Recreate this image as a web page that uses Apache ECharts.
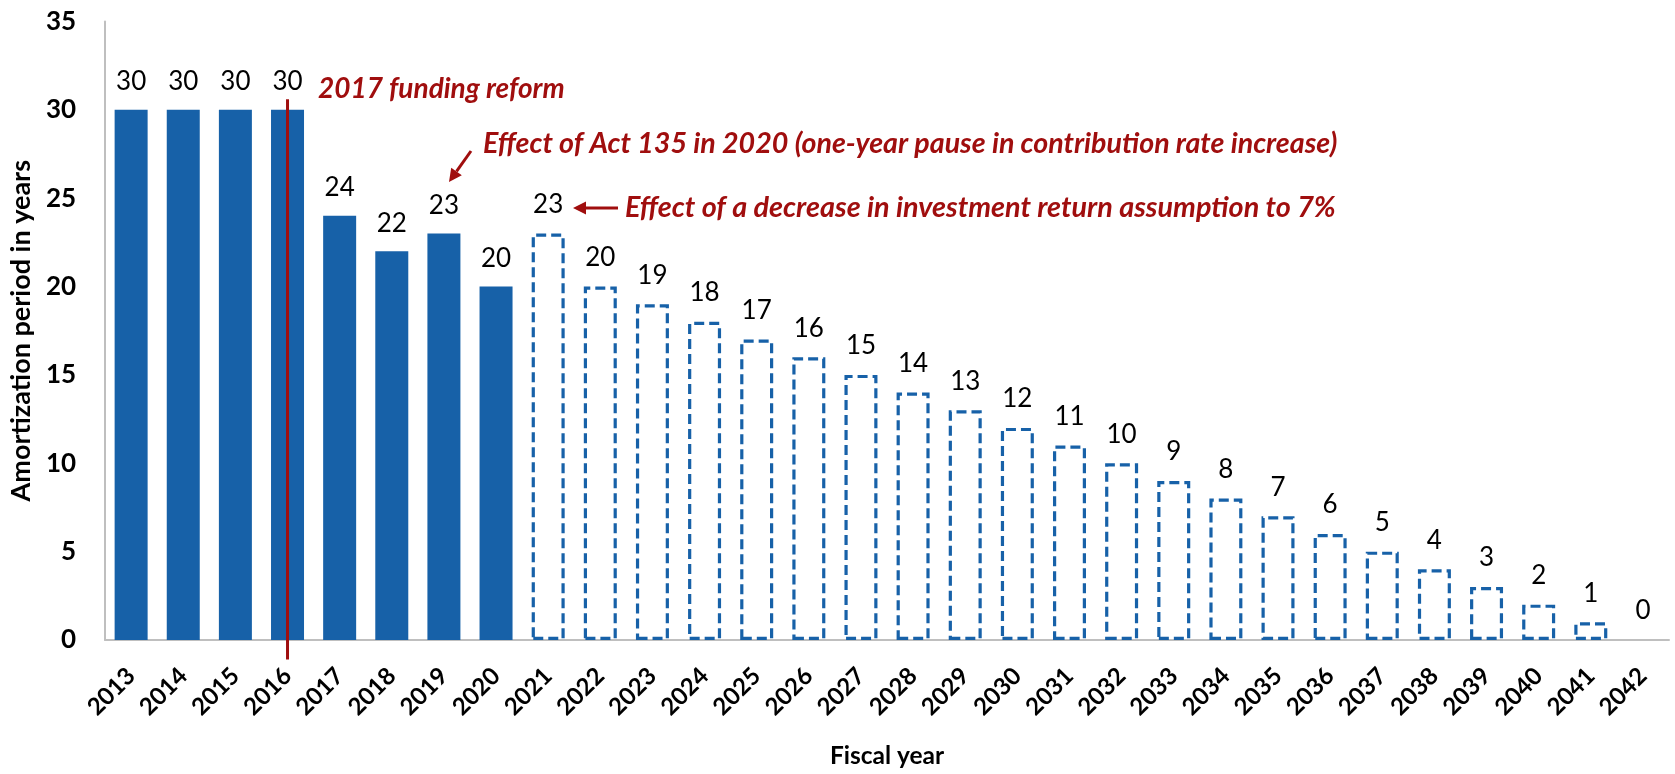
<!DOCTYPE html>
<html><head><meta charset="utf-8">
<script src="https://cdn.jsdelivr.net/npm/echarts@6/dist/echarts.min.js"></script>
<style>html,body{margin:0;padding:0;background:#fff}#c{width:1675px;height:774px}</style>
</head><body><div id="c"></div>
<script>
const years = ['2013','2014','2015','2016','2017','2018','2019','2020','2021','2022','2023','2024','2025','2026','2027','2028','2029','2030','2031','2032','2033','2034','2035','2036','2037','2038','2039','2040','2041','2042'];
const actualValues = [30,30,30,30,24,22,23,20];
const projectedValues = [23,20,19,18,17,16,15,14,13,12,11,10,9,8,7,6,5,4,3,2,1,0];
const reformYear = '2016';
const annotations = [
  '2017 funding reform',
  'Effect of Act 135 in 2020 (one-year pause in contribution rate increase)',
  'Effect of a decrease in investment return assumption to 7%'
];

const BLUE = '#1761A8';
const RED = '#A00E0E';
const FONT = 'Lato';

const actualData = years.map((y, i) => i < actualValues.length ? actualValues[i] : '-');
const projData = years.map((y, i) => {
  const j = i - actualValues.length;
  if (j < 0) return '-';
  const v = projectedValues[j];
  return v === 0 ? {value: v, itemStyle: {borderWidth: 0}} : v;
});

const chart = echarts.init(document.getElementById('c'), null, {renderer: 'canvas'});
const labelStyle = {show: true, position: 'top', distance: 15, color: '#000', fontFamily: FONT, fontSize: 26};
chart.setOption({
  animation: false,
  grid: {left: 105, right: 6, top: 21.4, bottom: 128.7, containLabel: false},
  xAxis: {
    type: 'category', data: years,
    name: 'Fiscal year', nameLocation: 'middle', nameGap: 104,
    nameTextStyle: {fontFamily: FONT, fontWeight: 'bold', fontSize: 24.5, color: '#000'},
    axisLine: {lineStyle: {color: '#BFBFBF', width: 2}},
    axisTick: {show: false},
    axisLabel: {rotate: 45, interval: 0, margin: 32, fontFamily: FONT, fontWeight: 'bold', fontSize: 24, color: '#000'}
  },
  yAxis: {
    type: 'value', min: 0, max: 35, interval: 5,
    name: 'Amortization period in years', nameLocation: 'middle', nameGap: 68,
    nameTextStyle: {fontFamily: FONT, fontWeight: 'bold', fontSize: 27, color: '#000'},
    axisLine: {show: true, lineStyle: {color: '#BFBFBF', width: 2}},
    axisTick: {show: false},
    splitLine: {show: false},
    axisLabel: {margin: 29, fontFamily: FONT, fontWeight: 'bold', fontSize: 26, color: '#000'}
  },
  series: [
    {type: 'bar', name: 'Actual', data: actualData, barWidth: 33, barGap: '-100%',
     itemStyle: {color: BLUE}, label: labelStyle},
    {type: 'bar', name: 'Projected', data: projData, barWidth: 33, barGap: '-100%',
     itemStyle: {color: '#fff', borderColor: BLUE, borderWidth: 3.2, borderType: [10, 5]},
     label: Object.assign({}, labelStyle, {distance: 16})}
  ]
});

function arrow(x1, y1, x2, y2) {
  const dx = x2 - x1, dy = y2 - y1, L = Math.hypot(dx, dy);
  const ux = dx / L, uy = dy / L, px = -uy, py = ux;
  const hl = 13, hw = 6.5;
  const bx = x2 - ux * hl, by = y2 - uy * hl;
  return [
    {type: 'line', shape: {x1: x1, y1: y1, x2: bx, y2: by}, style: {stroke: RED, lineWidth: 3}},
    {type: 'polygon', shape: {points: [[x2, y2], [bx + px * hw, by + py * hw], [bx - px * hw, by - py * hw]]}, style: {fill: RED}}
  ];
}

const lineX = chart.convertToPixel({xAxisIndex: 0}, reformYear);
const lineTop = chart.convertToPixel({yAxisIndex: 0}, 30.6);
const lineBot = chart.convertToPixel({yAxisIndex: 0}, -1.1);
const annoFont = {fontFamily: FONT, fontStyle: 'italic', fontWeight: 'bold', fill: RED};

chart.setOption({
  graphic: [
    {type: 'line', z: 100, shape: {x1: lineX, y1: lineTop, x2: lineX, y2: lineBot}, style: {stroke: RED, lineWidth: 3}},
    {type: 'text', x: 318, y: 89, style: Object.assign({text: annotations[0], verticalAlign: 'middle', fontSize: 28}, annoFont)},
    {type: 'text', x: 483, y: 144, style: Object.assign({text: annotations[1], verticalAlign: 'middle', fontSize: 28.6}, annoFont)},
    {type: 'text', x: 625, y: 208, style: Object.assign({text: annotations[2], verticalAlign: 'middle', fontSize: 28.8}, annoFont)},
    ...arrow(471, 151, 449, 182),
    ...arrow(618, 208, 573, 208)
  ]
});
</script></body></html>
